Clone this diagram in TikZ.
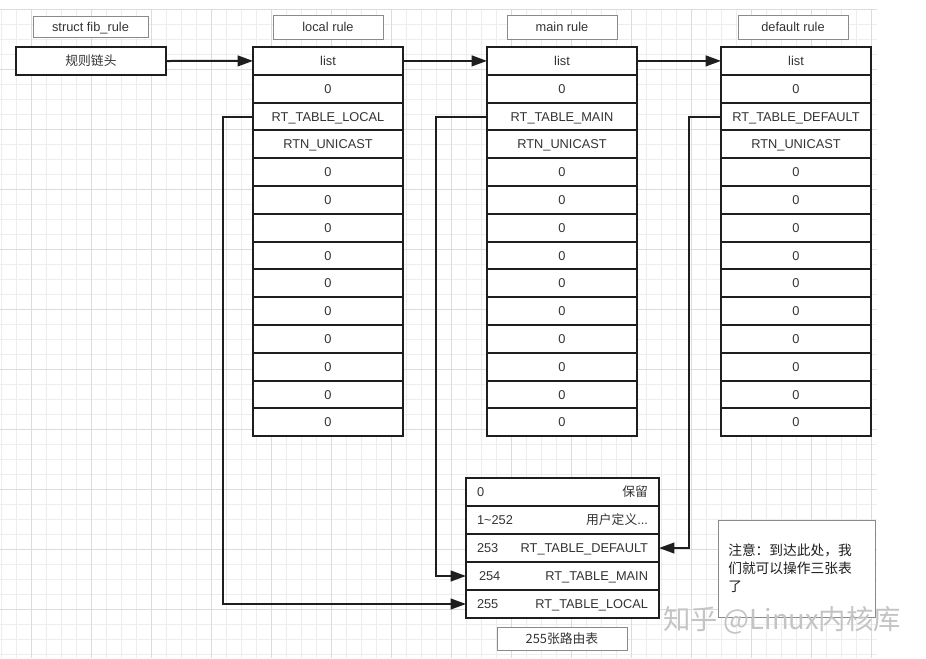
\documentclass[tikz,border=0pt]{standalone}
\usepackage{fontspec}
\setmainfont{Liberation Sans}
\newfontfamily\cjk{Noto Sans CJK SC}
\usetikzlibrary{arrows.meta}
\definecolor{linec}{HTML}{1E1E1E}
\definecolor{textc}{HTML}{333333}
\definecolor{gridminor}{HTML}{EDEDED}
\definecolor{gridmajor}{HTML}{DCDCDC}
\definecolor{labborder}{HTML}{8A8A8A}
\definecolor{wmc}{HTML}{C4C4C4}
\tikzset{
  cell/.style={draw=linec, line width=1.5pt, fill=white, minimum width=112.5pt,
    minimum height=20.85pt, inner sep=0pt, outer sep=0pt,
    text height=6.9pt, text depth=0pt,
    font=\fontsize{9.6}{11}\selectfont, text=textc},
  bcell/.style={draw=linec, line width=1.5pt, fill=white, minimum width=144.75pt,
    minimum height=21pt, inner xsep=8.25pt, inner ysep=0pt, outer sep=0pt,
    text height=6.9pt, text depth=0pt,
    font=\fontsize{9.6}{11}\selectfont, text=textc},
  labbox/.style={draw=labborder, line width=0.75pt, fill=white, inner sep=0pt,
    minimum width=82.5pt, minimum height=18pt, text height=6.9pt, text depth=0pt,
    font=\fontsize{9.6}{11}\selectfont, text=textc},
  conn/.style={draw=linec, line width=1.5pt, -{Triangle[length=11.5pt,width=8pt]}},
}
\begin{document}
\begin{tikzpicture}[x=0.75pt,y=-0.75pt]
\useasboundingbox (0,0) rectangle (926,658);
\fill[white] (0,0) rectangle (926,658);
% grid
\foreach \i in {0,...,58} {
  \pgfmathsetmacro\xx{1.7+15*\i}
  \draw[gridminor, line width=0.75pt] (\xx,9) -- (\xx,658);
}
\foreach \i in {0,...,43} {
  \pgfmathsetmacro\yy{9.3+15*\i}
  \draw[gridminor, line width=0.75pt] (0,\yy) -- (877,\yy);
}
\foreach \i in {0,...,14} {
  \pgfmathsetmacro\xx{31.7+60*\i}
  \draw[gridmajor, line width=0.75pt] (\xx,9) -- (\xx,658);
}
\foreach \i in {0,...,10} {
  \pgfmathsetmacro\yy{9.3+60*\i}
  \draw[gridmajor, line width=0.75pt] (0,\yy) -- (877,\yy);
}

% labels
\node[labbox, minimum width=86.25pt, minimum height=15.75pt] (fiblab) at (90.5,27) {struct fib\_rule};
\node[labbox] (loclab) at (328,27) {local rule};
\node[labbox] (mainlab) at (562,27) {main rule};
\node[labbox] (deflab) at (793,27) {default rule};

% head
\node[cell, minimum height=21pt] (head) at (91,61) {\cjk 规则链头};

% rule tables
\foreach \t/\cx/\lab in {L/328/RT\_TABLE\_LOCAL, M/562/RT\_TABLE\_MAIN, D/796/RT\_TABLE\_DEFAULT} {
  \node[cell] (\t1) at (\cx,{47+27.8*0.5}) {list};
  \node[cell] (\t2) at (\cx,{47+27.8*1.5}) {0};
  \node[cell] (\t3) at (\cx,{47+27.8*2.5}) {\lab};
  \node[cell] (\t4) at (\cx,{47+27.8*3.5}) {RTN\_UNICAST};
  \foreach \r in {5,...,14} {
    \node[cell] (\t\r) at (\cx,{47+27.8*(\r-0.5)}) {0};
  }
}

% bottom table
\node[bcell] (T1) at (562.5,492) {\hbox to 128.25pt{0\hfill{\cjk 保留}}};
\node[bcell] (T2) at (562.5,520) {\hbox to 128.25pt{1\textasciitilde252\hfill{\cjk 用户定义}...}};
\node[bcell] (T3) at (562.5,548) {\hbox to 128.25pt{253\hfill RT\_TABLE\_DEFAULT}};
\node[bcell] (T4) at (562.5,576) {\hbox to 128.25pt{\hspace{1.5pt}254\hfill RT\_TABLE\_MAIN}};
\node[bcell] (T5) at (562.5,604) {\hbox to 128.25pt{255\hfill RT\_TABLE\_LOCAL}};
\node[labbox, minimum width=97.5pt, minimum height=17.25pt] (tablab) at (562,638.5) {\cjk 255张路由表};

% note
\node[draw=labborder, line width=0.75pt, fill=white, minimum width=117.75pt,
  minimum height=72.75pt, inner sep=0pt] (note) at (796.5,568.5) {};
\node[anchor=north west, align=left, inner sep=0pt, text=linec,
  font=\cjk\fontsize{10.3}{13.5}\selectfont] (notetext) at (728,544)
  {注意：到达此处，我\\们就可以操作三张表\\了};

% connectors
\draw[conn] (head.east) -- (L1.west);
\draw[conn] (L1.east) -- (M1.west);
\draw[conn] (M1.east) -- (D1.west);
\draw[conn] (L3.west) -- ++(-30,0) |- (T5.west);
\draw[conn] (M3.west) -- ++(-51,0) |- (T4.west);
\draw[conn] (D3.west) -- ++(-32,0) |- (T3.east);

% watermark
\node[text=wmc, font=\cjk\fontsize{20.5}{24}\selectfont, inner sep=0pt] (wm) at (782,620) {知乎 @Linux内核库};
\end{tikzpicture}
\end{document}
